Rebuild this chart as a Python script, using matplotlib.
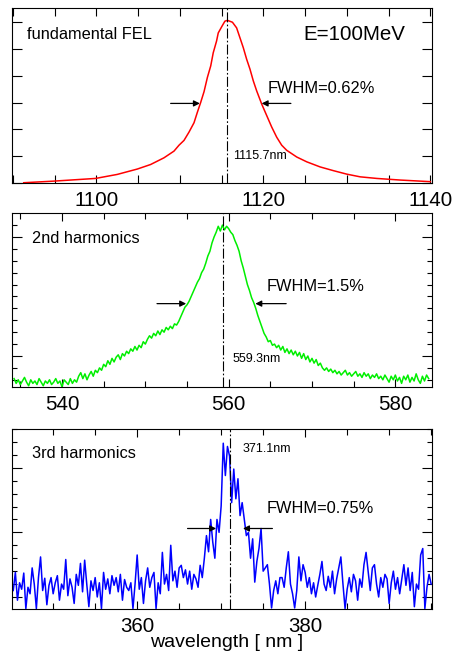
import numpy as np
import matplotlib
matplotlib.use('Agg')
import matplotlib.pyplot as plt
from matplotlib.ticker import MultipleLocator, NullFormatter

plt.rcParams['font.family'] = ['Liberation Sans', 'DejaVu Sans']

# fundamental FEL spectrum (arb. units)
red_wl = [1091.3, 1094.9, 1099.9, 1102.5, 1104.9, 1106.5, 1108.1, 1109.3, 1109.9, 1110.5,
          1111.1, 1111.7, 1112.1, 1112.5, 1112.9, 1113.3, 1113.7, 1114.0, 1114.4, 1114.6,
          1115.1, 1115.4, 1115.7, 1116.3, 1116.8, 1117.2, 1117.6, 1118.0, 1118.4, 1118.8,
          1119.2, 1119.8, 1120.4, 1121.0, 1121.6, 1122.2, 1122.8, 1124.0, 1125.2, 1126.8,
          1128.4, 1130.0, 1131.6, 1133.6, 1136.4, 1140.0]
red_int = [0.01, 0.07, 0.17, 0.32, 0.52, 0.69, 0.94, 1.19, 1.41, 1.59,
           1.90, 2.25, 2.64, 3.01, 3.41, 3.94, 4.37, 4.86, 5.30, 5.60,
           5.88, 6.04, 6.07, 6.00, 5.79, 5.42, 5.05, 4.62, 4.25, 3.81,
           3.44, 2.95, 2.52, 2.09, 1.71, 1.41, 1.22, 0.97, 0.79, 0.60,
           0.46, 0.33, 0.23, 0.17, 0.11, 0.05]

# 2nd harmonics, sampled every 0.25 nm from 534.25 nm
green_start, green_step = 534.25, 0.25
green_int = [
    -0.19, -0.23, -0.20, -0.24, -0.21, -0.18, -0.22, -0.25,
    -0.20, -0.23, -0.21, -0.24, -0.19, -0.22, -0.25, -0.21,
    -0.23, -0.20, -0.24, -0.22, -0.19, -0.23, -0.21, -0.26,
    -0.20, -0.22, -0.24, -0.19, -0.23, -0.20, -0.22, -0.17,
    -0.14, -0.19, -0.15, -0.20, -0.16, -0.13, -0.17, -0.12,
    -0.14, -0.10, -0.12, -0.07, -0.09, -0.04, -0.07, -0.02,
    -0.05, -0.01, 0.01, -0.03, 0.02, 0.00, 0.04, 0.02,
    0.06, 0.04, 0.08, 0.05, 0.09, 0.07, 0.12, 0.10,
    0.14, 0.17, 0.15, 0.19, 0.17, 0.21, 0.18, 0.22,
    0.20, 0.24, 0.22, 0.25, 0.23, 0.27, 0.26, 0.29,
    0.33, 0.37, 0.41, 0.43, 0.46, 0.50, 0.54, 0.58,
    0.62, 0.65, 0.70, 0.73, 0.78, 0.84, 0.88, 0.95,
    1.00, 1.04, 1.09, 1.05, 1.10, 1.06, 1.09, 1.07,
    1.04, 1.02, 0.97, 0.93, 0.88, 0.80, 0.74, 0.67,
    0.60, 0.55, 0.49, 0.45, 0.40, 0.34, 0.29, 0.24,
    0.19, 0.16, 0.12, 0.13, 0.09, 0.10, 0.07, 0.09,
    0.05, 0.08, 0.03, 0.06, 0.02, 0.05, 0.01, 0.04,
    0.00, 0.03, -0.02, 0.02, -0.03, 0.00, -0.05, -0.02,
    -0.06, -0.03, -0.08, -0.06, -0.10, -0.12, -0.10, -0.13,
    -0.11, -0.14, -0.12, -0.15, -0.13, -0.16, -0.14, -0.12,
    -0.16, -0.14, -0.17, -0.15, -0.13, -0.17, -0.15, -0.18,
    -0.14, -0.17, -0.15, -0.19, -0.16, -0.18, -0.15, -0.19,
    -0.17, -0.20, -0.16, -0.19, -0.22, -0.17, -0.20, -0.16,
    -0.21, -0.18, -0.23, -0.17, -0.20, -0.16, -0.22, -0.18,
    -0.21, -0.15, -0.20, -0.23, -0.17, -0.21, -0.16, -0.19,
]

# 3rd harmonics, sampled every 0.25 nm from 345.25 nm
blue_start, blue_step = 345.25, 0.25
blue_int = [
    0.10, 0.38, -0.05, 0.22, 0.12, 0.37, -0.18, 0.15,
    0.05, 0.45, 0.20, -0.18, 0.30, 0.62, 0.10, 0.29,
    -0.12, 0.18, 0.30, 0.05, 0.22, 0.33, -0.05, 0.20,
    0.12, 0.58, 0.02, 0.28, 0.15, -0.10, 0.35, 0.18,
    0.52, 0.08, 0.57, 0.20, -0.15, 0.25, 0.10, 0.30,
    0.00, 0.22, -0.18, 0.38, 0.12, 0.28, 0.05, 0.33,
    0.18, 0.30, 0.08, 0.35, -0.05, 0.27, 0.15, 0.10,
    0.22, -0.18, 0.20, 0.65, 0.12, 0.30, -0.10, 0.25,
    0.45, 0.15, 0.30, 0.38, -0.18, 0.22, 0.05, 0.69,
    0.20, 0.35, 0.10, 0.80, 0.25, 0.40, 0.15, 0.45,
    0.49, 0.30, 0.42, 0.20, 0.40, 0.12, 0.35, 0.28,
    0.15, 0.49, 0.30, 0.60, 0.95, 0.70, 1.20, 0.85,
    0.60, 1.20, 1.00, 1.41, 2.38, 1.88, 2.33, 2.18,
    1.46, 1.98, 1.52, 1.83, 1.26, 1.46, 1.20, 0.95,
    1.00, 0.60, 0.90, 0.23, 0.55, 0.75, 1.06, 0.40,
    0.45, 0.50, 0.20, -0.17, 0.10, 0.25, 0.05, 0.30,
    0.30, 0.15, 0.45, 0.70, 0.20, 0.05, -0.17, 0.10,
    0.62, 0.25, 0.50, 0.38, 0.15, 0.30, 0.05, 0.22,
    0.00, 0.18, 0.35, 0.55, 0.20, 0.10, 0.32, 0.15,
    0.40, 0.05, 0.28, 0.45, 0.62, 0.20, -0.18, 0.12,
    0.30, 0.08, 0.35, 0.25, -0.05, 0.28, 0.15, 0.50,
    0.69, 0.40, 0.10, 0.45, 0.50, 0.20, 0.00, 0.30,
    0.15, 0.35, 0.28, -0.10, 0.22, 0.40, 0.12, 0.30,
    0.05, 0.28, 0.50, 0.18, 0.45, 0.10, 0.38, -0.15,
    0.20, 0.12, 0.65, 0.75, -0.18, 0.15, 0.35, 0.20,
]

green_wl = green_start + green_step * np.arange(len(green_int))
blue_wl = blue_start + blue_step * np.arange(len(blue_int))

peaks = [1115.7, 559.3, 371.1]
peak_labels = ['1115.7nm', '559.3nm', '371.1nm']
panel_names = ['fundamental FEL', '2nd harmonics', '3rd harmonics']
fwhm_labels = ['FWHM=0.62%', 'FWHM=1.5%', 'FWHM=0.75%']
xticks = [[1100, 1120, 1140], [540, 560, 580], [360, 380]]
xlims = [(1089.9, 1140.2), (534.0, 584.4), (345.1, 395.1)]
ylims = [(0, 6.52), (-0.258, 1.199), (-0.186, 2.60)]
# (left start, left tip, right tip, right start, height)
arrows = [(1108.9, 1112.4, 1119.8, 1123.3, 2.97),
          (551.4, 554.9, 563.2, 566.9, 0.44),
          (366.0, 369.4, 372.6, 376.1, 1.06)]

W, H = 456, 655
fig = plt.figure(figsize=(W / 100, H / 100), dpi=100)

boxes = [(12, 8.3, 432, 183), (12, 213.3, 432, 386.7), (12, 429, 432, 609)]
axes = []
for (l, t, r, b) in boxes:
    axes.append(fig.add_axes([l / W, 1 - b / H, (r - l) / W, (b - t) / H]))

curves = [(red_wl, red_int, '#ff0000'), (green_wl, green_int, '#00ee00'), (blue_wl, blue_int, '#0000ff')]
for i, ax in enumerate(axes):
    x, y, c = curves[i]
    ax.plot(x, y, color=c, lw=1.1)
    ax.set_xlim(*xlims[i])
    ax.set_ylim(*ylims[i])
    ax.set_xticks(xticks[i])
    ax.xaxis.set_minor_locator(MultipleLocator(5))
    ax.tick_params(which='both', direction='in', top=True, right=True, width=0.8,
                   labelsize=14.8, pad=6)
    ax.tick_params(which='major', length=6)
    ax.tick_params(which='minor', length=4)
    ax.tick_params(axis='y', which='major', length=7)
    ax.tick_params(axis='y', which='minor', length=3.5)
    ax.yaxis.set_major_formatter(NullFormatter())
    for s in ax.spines.values():
        s.set_linewidth(0.8)

    ax.axvline(peaks[i], color='black', lw=0.8, dashes=(9, 2, 1.5, 2))

    ls, lt, rt, rs, h = arrows[i]
    ap = dict(arrowstyle='-|>', color='black', lw=0.9, mutation_scale=9, shrinkA=0, shrinkB=0)
    ax.annotate('', xy=(lt, h), xytext=(ls, h), arrowprops=ap)
    ax.annotate('', xy=(rt, h), xytext=(rs, h), arrowprops=ap)

axes[0].yaxis.set_major_locator(MultipleLocator(1))
axes[0].yaxis.set_minor_locator(plt.NullLocator())
axes[0].tick_params(axis='x', which='minor', length=6)
axes[1].yaxis.set_major_locator(MultipleLocator(1))
axes[1].yaxis.set_minor_locator(MultipleLocator(0.1))
axes[2].yaxis.set_major_locator(MultipleLocator(1))
axes[2].yaxis.set_minor_locator(MultipleLocator(0.2))

# text labels (axes fractions)
a = axes[0]
a.text(0.035, 0.823, panel_names[0], transform=a.transAxes, fontsize=11.8, va='baseline')
a.text(0.694, 0.821, 'E=100MeV', transform=a.transAxes, fontsize=14.8, va='baseline')
a.text(0.609, 0.513, fwhm_labels[0], transform=a.transAxes, fontsize=11.8, va='baseline')
a.text(0.527, 0.137, peak_labels[0], transform=a.transAxes, fontsize=9, va='baseline')

a = axes[1]
a.text(0.048, 0.830, panel_names[1], transform=a.transAxes, fontsize=11.8, va='baseline')
a.text(0.607, 0.552, fwhm_labels[1], transform=a.transAxes, fontsize=11.8, va='baseline')
a.text(0.524, 0.141, peak_labels[1], transform=a.transAxes, fontsize=9, va='baseline')

a = axes[2]
a.text(0.048, 0.837, panel_names[2], transform=a.transAxes, fontsize=11.8, va='baseline')
a.text(0.549, 0.871, peak_labels[2], transform=a.transAxes, fontsize=9, va='baseline')
a.text(0.607, 0.532, fwhm_labels[2], transform=a.transAxes, fontsize=11.8, va='baseline')

fig.text(0.497, 1 - 646.7 / H, 'wavelength [ nm ]', ha='center', va='baseline', fontsize=14.0)

fig.savefig('out.png', dpi=100)
